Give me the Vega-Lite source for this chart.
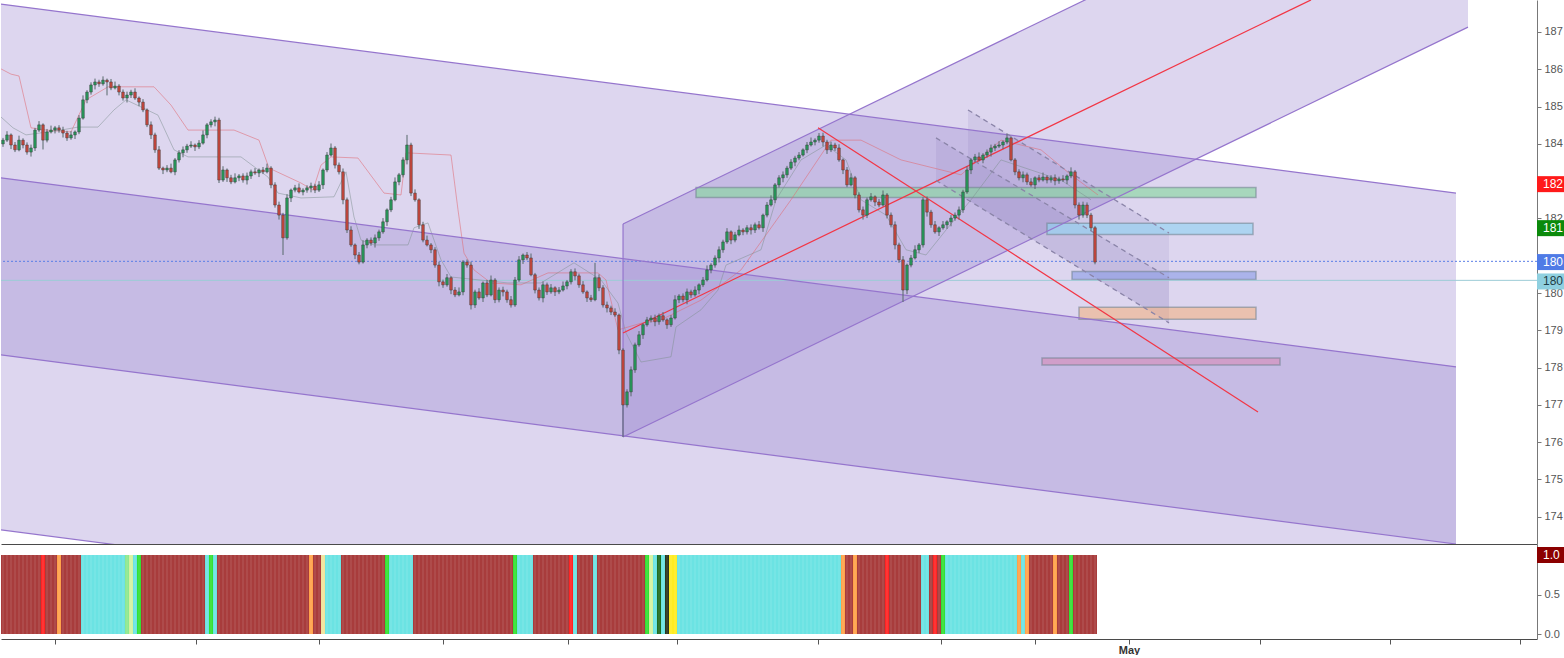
{
"$schema":"https://vega.github.io/schema/vega-lite/v6.json",
"padding":0,
"autosize":{"type":"pad"},
"background":"white",
"spacing":0,
"resolve":{"scale":{"color":"independent","fill":"independent"}},
"config":{"view":{"stroke":null},"axis":{"labelFont":"Liberation Sans","labelColor":"#555555","domainColor":"#787878","tickColor":"#787878","grid":false},"text":{"font":"Liberation Sans"}},
"datasets":{
"candles":[
{"x":0,"o":184.00,"h":184.16,"l":183.92,"c":184.10},{"x":1,"o":184.10,"h":184.34,"l":184.05,"c":184.24},{"x":2,"o":184.24,"h":184.28,"l":183.86,"c":183.97},{"x":3,"o":183.97,"h":184.05,"l":183.78,"c":183.84},{"x":4,"o":183.84,"h":184.22,"l":183.80,"c":184.10},{"x":5,"o":184.10,"h":184.15,"l":183.88,"c":183.97},{"x":6,"o":183.97,"h":184.04,"l":183.71,"c":183.78},{"x":7,"o":183.78,"h":183.98,"l":183.66,"c":183.89},{"x":8,"o":183.89,"h":184.43,"l":183.81,"c":184.37},{"x":9,"o":184.37,"h":184.61,"l":184.32,"c":184.51},
{"x":10,"o":184.51,"h":184.55,"l":183.85,"c":184.10},{"x":11,"o":184.10,"h":184.40,"l":184.04,"c":184.32},{"x":12,"o":184.32,"h":184.49,"l":184.28,"c":184.37},{"x":13,"o":184.37,"h":184.48,"l":184.28,"c":184.43},{"x":14,"o":184.43,"h":184.50,"l":184.30,"c":184.37},{"x":15,"o":184.37,"h":184.46,"l":184.17,"c":184.29},{"x":16,"o":184.29,"h":184.35,"l":184.08,"c":184.16},{"x":17,"o":184.16,"h":184.34,"l":184.11,"c":184.24},{"x":18,"o":184.24,"h":184.36,"l":184.13,"c":184.32},{"x":19,"o":184.32,"h":184.77,"l":184.26,"c":184.69},
{"x":20,"o":184.69,"h":185.30,"l":184.65,"c":185.18},{"x":21,"o":185.18,"h":185.44,"l":185.09,"c":185.39},{"x":22,"o":185.39,"h":185.65,"l":185.32,"c":185.58},{"x":23,"o":185.58,"h":185.75,"l":185.46,"c":185.66},{"x":24,"o":185.66,"h":185.72,"l":185.53,"c":185.61},{"x":25,"o":185.61,"h":185.81,"l":185.56,"c":185.71},{"x":26,"o":185.71,"h":185.75,"l":185.30,"c":185.66},{"x":27,"o":185.66,"h":185.74,"l":185.44,"c":185.50},{"x":28,"o":185.50,"h":185.67,"l":185.46,"c":185.55},{"x":29,"o":185.55,"h":185.60,"l":185.30,"c":185.39},
{"x":30,"o":185.39,"h":185.46,"l":185.16,"c":185.23},{"x":31,"o":185.23,"h":185.40,"l":185.11,"c":185.31},{"x":32,"o":185.31,"h":185.45,"l":185.23,"c":185.39},{"x":33,"o":185.39,"h":185.49,"l":185.18,"c":185.23},{"x":34,"o":185.23,"h":185.27,"l":185.01,"c":185.12},{"x":35,"o":185.12,"h":185.20,"l":184.85,"c":184.91},{"x":36,"o":184.91,"h":184.95,"l":184.45,"c":184.51},{"x":37,"o":184.51,"h":184.60,"l":184.13,"c":184.24},{"x":38,"o":184.24,"h":184.30,"l":183.76,"c":183.84},{"x":39,"o":183.84,"h":183.94,"l":183.30,"c":183.35},
{"x":40,"o":183.35,"h":183.39,"l":183.19,"c":183.30},{"x":41,"o":183.30,"h":183.43,"l":183.24,"c":183.35},{"x":42,"o":183.35,"h":183.47,"l":183.21,"c":183.25},{"x":43,"o":183.25,"h":183.62,"l":183.16,"c":183.57},{"x":44,"o":183.57,"h":183.83,"l":183.50,"c":183.76},{"x":45,"o":183.76,"h":183.93,"l":183.64,"c":183.84},{"x":46,"o":183.84,"h":184.00,"l":183.76,"c":183.94},{"x":47,"o":183.94,"h":184.07,"l":183.89,"c":183.97},{"x":48,"o":183.97,"h":184.01,"l":183.81,"c":183.92},{"x":49,"o":183.92,"h":184.10,"l":183.86,"c":184.02},
{"x":50,"o":184.02,"h":184.36,"l":183.98,"c":184.24},{"x":51,"o":184.24,"h":184.56,"l":184.15,"c":184.51},{"x":52,"o":184.51,"h":184.66,"l":184.44,"c":184.59},{"x":53,"o":184.59,"h":184.73,"l":184.47,"c":184.64},{"x":54,"o":184.64,"h":184.70,"l":182.95,"c":183.03},{"x":55,"o":183.03,"h":183.40,"l":182.98,"c":183.30},{"x":56,"o":183.30,"h":183.34,"l":182.98,"c":183.09},{"x":57,"o":183.09,"h":183.17,"l":182.92,"c":182.98},{"x":58,"o":182.98,"h":183.21,"l":182.94,"c":183.09},{"x":59,"o":183.09,"h":183.19,"l":183.00,"c":183.14},
{"x":60,"o":183.14,"h":183.21,"l":182.96,"c":183.03},{"x":61,"o":183.03,"h":183.23,"l":182.91,"c":183.14},{"x":62,"o":183.14,"h":183.31,"l":183.06,"c":183.25},{"x":63,"o":183.25,"h":183.35,"l":183.17,"c":183.22},{"x":64,"o":183.22,"h":183.34,"l":183.11,"c":183.30},{"x":65,"o":183.30,"h":183.38,"l":183.19,"c":183.25},{"x":66,"o":183.25,"h":183.47,"l":183.21,"c":183.35},{"x":67,"o":183.35,"h":183.40,"l":182.81,"c":182.90},{"x":68,"o":182.90,"h":182.97,"l":182.29,"c":182.36},{"x":69,"o":182.36,"h":182.45,"l":181.97,"c":182.09},
{"x":70,"o":182.09,"h":182.15,"l":181.02,"c":181.48},{"x":71,"o":181.48,"h":182.65,"l":181.43,"c":182.55},{"x":72,"o":182.55,"h":182.80,"l":182.44,"c":182.76},{"x":73,"o":182.76,"h":182.90,"l":182.70,"c":182.82},{"x":74,"o":182.82,"h":182.94,"l":182.67,"c":182.71},{"x":75,"o":182.71,"h":182.81,"l":182.62,"c":182.76},{"x":76,"o":182.76,"h":182.89,"l":182.69,"c":182.82},{"x":77,"o":182.82,"h":182.96,"l":182.70,"c":182.87},{"x":78,"o":182.87,"h":182.93,"l":182.68,"c":182.76},{"x":79,"o":182.76,"h":183.00,"l":182.71,"c":182.90},
{"x":80,"o":182.90,"h":183.34,"l":182.79,"c":183.30},{"x":81,"o":183.30,"h":183.78,"l":183.24,"c":183.70},{"x":82,"o":183.70,"h":184.01,"l":183.66,"c":183.89},{"x":83,"o":183.89,"h":183.94,"l":183.34,"c":183.43},{"x":84,"o":183.43,"h":183.50,"l":183.18,"c":183.25},{"x":85,"o":183.25,"h":183.34,"l":182.38,"c":182.50},{"x":86,"o":182.50,"h":182.56,"l":181.61,"c":181.69},{"x":87,"o":181.69,"h":181.79,"l":181.24,"c":181.29},{"x":88,"o":181.29,"h":181.33,"l":180.91,"c":181.02},{"x":89,"o":181.02,"h":181.10,"l":180.77,"c":180.83},
{"x":90,"o":180.83,"h":181.41,"l":180.79,"c":181.29},{"x":91,"o":181.29,"h":181.47,"l":181.20,"c":181.42},{"x":92,"o":181.42,"h":181.49,"l":181.27,"c":181.34},{"x":93,"o":181.34,"h":181.57,"l":181.22,"c":181.48},{"x":94,"o":181.48,"h":181.70,"l":181.40,"c":181.64},{"x":95,"o":181.64,"h":182.01,"l":181.59,"c":181.91},{"x":96,"o":181.91,"h":182.27,"l":181.80,"c":182.23},{"x":97,"o":182.23,"h":182.58,"l":182.17,"c":182.50},{"x":98,"o":182.50,"h":183.10,"l":182.46,"c":182.98},{"x":99,"o":182.98,"h":183.22,"l":182.89,"c":183.17},
{"x":100,"o":183.17,"h":183.64,"l":183.10,"c":183.57},{"x":101,"o":183.57,"h":184.24,"l":183.45,"c":183.97},{"x":102,"o":183.97,"h":184.03,"l":182.60,"c":182.68},{"x":103,"o":182.68,"h":182.78,"l":182.45,"c":182.50},{"x":104,"o":182.50,"h":182.54,"l":181.72,"c":181.83},{"x":105,"o":181.83,"h":181.91,"l":181.36,"c":181.42},{"x":106,"o":181.42,"h":181.54,"l":181.25,"c":181.29},{"x":107,"o":181.29,"h":181.34,"l":181.07,"c":181.16},{"x":108,"o":181.16,"h":181.23,"l":180.68,"c":180.75},{"x":109,"o":180.75,"h":180.84,"l":180.18,"c":180.30},
{"x":110,"o":180.30,"h":180.36,"l":180.14,"c":180.22},{"x":111,"o":180.22,"h":180.51,"l":180.17,"c":180.41},{"x":112,"o":180.41,"h":180.45,"l":179.97,"c":180.08},{"x":113,"o":180.08,"h":180.16,"l":179.89,"c":179.95},{"x":114,"o":179.95,"h":180.15,"l":179.91,"c":180.03},{"x":115,"o":180.03,"h":180.88,"l":179.94,"c":180.83},{"x":116,"o":180.83,"h":180.90,"l":180.68,"c":180.75},{"x":117,"o":180.75,"h":180.84,"l":179.56,"c":179.68},{"x":118,"o":179.68,"h":180.09,"l":179.60,"c":180.03},{"x":119,"o":180.03,"h":180.13,"l":179.82,"c":179.87},
{"x":120,"o":179.87,"h":180.31,"l":179.76,"c":180.27},{"x":121,"o":180.27,"h":180.35,"l":179.89,"c":179.95},{"x":122,"o":179.95,"h":180.47,"l":179.91,"c":180.35},{"x":123,"o":180.35,"h":180.40,"l":179.73,"c":179.82},{"x":124,"o":179.82,"h":180.15,"l":179.75,"c":180.08},{"x":125,"o":180.08,"h":180.17,"l":179.91,"c":180.03},{"x":126,"o":180.03,"h":180.09,"l":179.74,"c":179.82},{"x":127,"o":179.82,"h":179.92,"l":179.61,"c":179.68},{"x":128,"o":179.68,"h":180.43,"l":179.63,"c":180.35},{"x":129,"o":180.35,"h":180.99,"l":180.30,"c":180.89},
{"x":130,"o":180.89,"h":181.06,"l":180.78,"c":181.02},{"x":131,"o":181.02,"h":181.10,"l":180.88,"c":180.94},{"x":132,"o":180.94,"h":181.06,"l":180.45,"c":180.49},{"x":133,"o":180.49,"h":180.54,"l":179.99,"c":180.08},{"x":134,"o":180.08,"h":180.15,"l":179.80,"c":179.87},{"x":135,"o":179.87,"h":180.31,"l":179.75,"c":180.22},{"x":136,"o":180.22,"h":180.28,"l":179.95,"c":180.03},{"x":137,"o":180.03,"h":180.24,"l":179.98,"c":180.14},{"x":138,"o":180.14,"h":180.18,"l":179.92,"c":180.03},{"x":139,"o":180.03,"h":180.16,"l":179.97,"c":180.08},
{"x":140,"o":180.08,"h":180.31,"l":180.04,"c":180.19},{"x":141,"o":180.19,"h":180.35,"l":180.10,"c":180.30},{"x":142,"o":180.30,"h":180.64,"l":180.23,"c":180.57},{"x":143,"o":180.57,"h":180.66,"l":180.34,"c":180.46},{"x":144,"o":180.46,"h":180.52,"l":180.14,"c":180.22},{"x":145,"o":180.22,"h":180.32,"l":179.98,"c":180.03},{"x":146,"o":180.03,"h":180.07,"l":179.76,"c":179.87},{"x":147,"o":179.87,"h":179.95,"l":179.76,"c":179.82},{"x":148,"o":179.82,"h":180.81,"l":179.78,"c":180.41},{"x":149,"o":180.41,"h":180.50,"l":180.05,"c":180.14},
{"x":150,"o":180.14,"h":180.21,"l":179.61,"c":179.68},{"x":151,"o":179.68,"h":179.77,"l":179.48,"c":179.60},{"x":152,"o":179.60,"h":179.66,"l":179.41,"c":179.49},{"x":153,"o":179.49,"h":179.59,"l":179.36,"c":179.41},{"x":154,"o":179.41,"h":179.45,"l":178.36,"c":178.47},{"x":155,"o":178.47,"h":178.52,"l":176.14,"c":177.00},{"x":156,"o":177.00,"h":177.42,"l":176.93,"c":177.35},{"x":157,"o":177.35,"h":178.03,"l":177.23,"c":177.94},{"x":158,"o":177.94,"h":178.67,"l":177.86,"c":178.61},{"x":159,"o":178.61,"h":178.98,"l":178.56,"c":178.88},
{"x":160,"o":178.88,"h":179.19,"l":178.77,"c":179.15},{"x":161,"o":179.15,"h":179.36,"l":179.10,"c":179.28},{"x":162,"o":179.28,"h":179.40,"l":179.21,"c":179.33},{"x":163,"o":179.33,"h":179.42,"l":179.11,"c":179.23},{"x":164,"o":179.23,"h":179.45,"l":179.15,"c":179.39},{"x":165,"o":179.39,"h":179.49,"l":179.23,"c":179.28},{"x":166,"o":179.28,"h":179.32,"l":179.04,"c":179.15},{"x":167,"o":179.15,"h":179.41,"l":179.09,"c":179.33},{"x":168,"o":179.33,"h":179.94,"l":179.29,"c":179.82},{"x":169,"o":179.82,"h":179.97,"l":179.73,"c":179.92},
{"x":170,"o":179.92,"h":179.99,"l":179.75,"c":179.82},{"x":171,"o":179.82,"h":180.12,"l":179.70,"c":180.03},{"x":172,"o":180.03,"h":180.09,"l":179.87,"c":179.95},{"x":173,"o":179.95,"h":180.18,"l":179.90,"c":180.08},{"x":174,"o":180.08,"h":180.26,"l":179.97,"c":180.22},{"x":175,"o":180.22,"h":180.43,"l":180.16,"c":180.35},{"x":176,"o":180.35,"h":180.74,"l":180.31,"c":180.62},{"x":177,"o":180.62,"h":180.80,"l":180.53,"c":180.75},{"x":178,"o":180.75,"h":181.01,"l":180.68,"c":180.94},{"x":179,"o":180.94,"h":181.25,"l":180.82,"c":181.16},
{"x":180,"o":181.16,"h":181.43,"l":181.08,"c":181.37},{"x":181,"o":181.37,"h":181.74,"l":181.32,"c":181.64},{"x":182,"o":181.64,"h":181.68,"l":181.31,"c":181.42},{"x":183,"o":181.42,"h":181.64,"l":181.36,"c":181.56},{"x":184,"o":181.56,"h":181.81,"l":181.52,"c":181.69},{"x":185,"o":181.69,"h":181.74,"l":181.55,"c":181.64},{"x":186,"o":181.64,"h":181.82,"l":181.57,"c":181.75},{"x":187,"o":181.75,"h":181.84,"l":181.57,"c":181.69},{"x":188,"o":181.69,"h":181.89,"l":181.61,"c":181.83},{"x":189,"o":181.83,"h":181.93,"l":181.70,"c":181.75},
{"x":190,"o":181.75,"h":182.13,"l":181.64,"c":182.09},{"x":191,"o":182.09,"h":182.44,"l":182.03,"c":182.36},{"x":192,"o":182.36,"h":182.62,"l":182.32,"c":182.50},{"x":193,"o":182.50,"h":182.95,"l":182.41,"c":182.90},{"x":194,"o":182.90,"h":183.16,"l":182.83,"c":183.09},{"x":195,"o":183.09,"h":183.26,"l":182.97,"c":183.17},{"x":196,"o":183.17,"h":183.41,"l":183.09,"c":183.35},{"x":197,"o":183.35,"h":183.59,"l":183.30,"c":183.51},{"x":198,"o":183.51,"h":183.68,"l":183.40,"c":183.62},{"x":199,"o":183.62,"h":183.78,"l":183.56,"c":183.70},
{"x":200,"o":183.70,"h":183.88,"l":183.66,"c":183.84},{"x":201,"o":183.84,"h":184.05,"l":183.75,"c":183.97},{"x":202,"o":183.97,"h":184.17,"l":183.93,"c":184.05},{"x":203,"o":184.05,"h":184.15,"l":183.96,"c":184.10},{"x":204,"o":184.10,"h":184.29,"l":184.03,"c":184.21},{"x":205,"o":184.21,"h":184.30,"l":183.93,"c":184.05},{"x":206,"o":184.05,"h":184.11,"l":183.73,"c":183.84},{"x":207,"o":183.84,"h":184.06,"l":183.78,"c":183.97},{"x":208,"o":183.97,"h":184.03,"l":183.81,"c":183.89},{"x":209,"o":183.89,"h":183.99,"l":183.52,"c":183.57},
{"x":210,"o":183.57,"h":183.61,"l":183.19,"c":183.30},{"x":211,"o":183.30,"h":183.38,"l":182.84,"c":182.90},{"x":212,"o":182.90,"h":183.21,"l":182.86,"c":183.09},{"x":213,"o":183.09,"h":183.14,"l":182.54,"c":182.63},{"x":214,"o":182.63,"h":182.70,"l":182.16,"c":182.23},{"x":215,"o":182.23,"h":182.32,"l":181.97,"c":182.09},{"x":216,"o":182.09,"h":182.56,"l":182.01,"c":182.50},{"x":217,"o":182.50,"h":182.68,"l":182.45,"c":182.58},{"x":218,"o":182.58,"h":182.62,"l":182.33,"c":182.44},{"x":219,"o":182.44,"h":182.52,"l":182.30,"c":182.36},
{"x":220,"o":182.36,"h":182.75,"l":182.32,"c":182.63},{"x":221,"o":182.63,"h":182.68,"l":182.00,"c":182.09},{"x":222,"o":182.09,"h":182.16,"l":181.76,"c":181.83},{"x":223,"o":181.83,"h":181.92,"l":181.17,"c":181.29},{"x":224,"o":181.29,"h":181.35,"l":180.81,"c":180.89},{"x":225,"o":180.89,"h":180.99,"l":179.76,"c":180.08},{"x":226,"o":180.08,"h":180.79,"l":179.97,"c":180.75},{"x":227,"o":180.75,"h":181.02,"l":180.69,"c":180.94},{"x":228,"o":180.94,"h":181.28,"l":180.90,"c":181.16},{"x":229,"o":181.16,"h":181.34,"l":181.07,"c":181.29},
{"x":230,"o":181.29,"h":182.57,"l":181.22,"c":182.50},{"x":231,"o":182.50,"h":182.59,"l":182.05,"c":182.17},{"x":232,"o":182.17,"h":182.23,"l":181.75,"c":181.83},{"x":233,"o":181.83,"h":181.93,"l":181.59,"c":181.64},{"x":234,"o":181.64,"h":181.79,"l":181.53,"c":181.75},{"x":235,"o":181.75,"h":181.93,"l":181.70,"c":181.83},{"x":236,"o":181.83,"h":181.95,"l":181.72,"c":181.91},{"x":237,"o":181.91,"h":182.09,"l":181.79,"c":182.01},{"x":238,"o":182.01,"h":182.16,"l":181.94,"c":182.09},{"x":239,"o":182.09,"h":182.32,"l":181.97,"c":182.23},
{"x":240,"o":182.23,"h":182.77,"l":182.15,"c":182.71},{"x":241,"o":182.71,"h":183.40,"l":182.66,"c":183.30},{"x":242,"o":183.30,"h":183.61,"l":183.19,"c":183.57},{"x":243,"o":183.57,"h":183.73,"l":183.51,"c":183.65},{"x":244,"o":183.65,"h":183.77,"l":183.53,"c":183.57},{"x":245,"o":183.57,"h":183.75,"l":183.48,"c":183.70},{"x":246,"o":183.70,"h":183.85,"l":183.63,"c":183.78},{"x":247,"o":183.78,"h":183.98,"l":183.66,"c":183.89},{"x":248,"o":183.89,"h":184.00,"l":183.81,"c":183.94},{"x":249,"o":183.94,"h":184.07,"l":183.89,"c":183.97},
{"x":250,"o":183.97,"h":184.09,"l":183.86,"c":184.05},{"x":251,"o":184.05,"h":184.26,"l":183.99,"c":184.16},{"x":252,"o":184.16,"h":184.20,"l":183.53,"c":183.57},{"x":253,"o":183.57,"h":183.62,"l":183.16,"c":183.25},{"x":254,"o":183.25,"h":183.32,"l":183.02,"c":183.09},{"x":255,"o":183.09,"h":183.26,"l":182.97,"c":183.17},{"x":256,"o":183.17,"h":183.23,"l":182.90,"c":182.98},{"x":257,"o":182.98,"h":183.08,"l":182.85,"c":182.90},{"x":258,"o":182.90,"h":183.13,"l":182.79,"c":183.09},{"x":259,"o":183.09,"h":183.17,"l":182.97,"c":183.03},
{"x":260,"o":183.03,"h":183.23,"l":182.99,"c":183.11},{"x":261,"o":183.11,"h":183.16,"l":182.94,"c":183.03},{"x":262,"o":183.03,"h":183.16,"l":182.96,"c":183.09},{"x":263,"o":183.09,"h":183.18,"l":182.89,"c":183.01},{"x":264,"o":183.01,"h":183.12,"l":182.93,"c":183.06},{"x":265,"o":183.06,"h":183.16,"l":182.98,"c":183.03},{"x":266,"o":183.03,"h":183.18,"l":182.92,"c":183.14},{"x":267,"o":183.14,"h":183.37,"l":183.08,"c":183.25},{"x":268,"o":183.25,"h":183.30,"l":182.27,"c":182.36},{"x":269,"o":182.36,"h":182.43,"l":181.97,"c":182.09},
{"x":270,"o":182.09,"h":182.45,"l":182.02,"c":182.36},{"x":271,"o":182.36,"h":182.43,"l":182.01,"c":182.09},{"x":272,"o":182.09,"h":182.15,"l":181.67,"c":181.75},{"x":273,"o":181.75,"h":181.80,"l":180.77,"c":180.83}
],
"kijun":[
{"x":-0.5,"p":186.01},{"x":2,"p":185.87},{"x":4,"p":185.82},{"x":7,"p":184.43},{"x":10.75,"p":184.37},{"x":17,"p":184.32},{"x":20.75,"p":185.18},{"x":26.25,"p":185.53},{"x":37.75,"p":185.53},{"x":42,"p":185.04},{"x":46.25,"p":184.37},{"x":57.75,"p":184.37},{"x":64,"p":184.10},{"x":66.5,"p":183.35},{"x":74.5,"p":182.95},{"x":77.5,"p":182.76},{"x":79.5,"p":183.43},{"x":82,"p":183.65},{"x":88.75,"p":183.62},{"x":95.25,"p":182.68},{"x":99.5,"p":182.63},{"x":100.75,"p":183.76},{"x":112,"p":183.70},{"x":113.75,"p":182.23},{"x":115.25,"p":181.07},{"x":117.75,"p":180.62},{"x":122,"p":180.27},{"x":129.5,"p":180.22},{"x":136.25,"p":180.54},{"x":148.75,"p":180.54},{"x":150.75,"p":180.35},{"x":153.75,"p":179.01},{"x":159.5,"p":179.19},{"x":164.5,"p":179.28},{"x":174.5,"p":179.81},{"x":184.5,"p":180.62},{"x":197,"p":182.50},{"x":207,"p":184.10},{"x":214.5,"p":184.10},{"x":224.5,"p":183.57},{"x":239.5,"p":183.17},{"x":249.5,"p":184.10},{"x":259.5,"p":183.84},{"x":267,"p":183.17},{"x":273.75,"p":182.63}
],
"tenkan":[
{"x":-0.5,"p":184.72},{"x":2.5,"p":184.43},{"x":5.75,"p":184.24},{"x":14.5,"p":184.37},{"x":18.75,"p":184.45},{"x":23.75,"p":184.45},{"x":27.75,"p":184.91},{"x":30.75,"p":185.18},{"x":34.5,"p":184.99},{"x":38.75,"p":184.77},{"x":42.75,"p":183.84},{"x":46.25,"p":183.65},{"x":59.5,"p":183.65},{"x":66.25,"p":183.11},{"x":68.75,"p":182.68},{"x":74.5,"p":182.55},{"x":82.75,"p":182.58},{"x":85.75,"p":183.25},{"x":87.75,"p":182.04},{"x":89.5,"p":181.42},{"x":92.75,"p":181.29},{"x":101.25,"p":181.29},{"x":102.75,"p":181.75},{"x":106.25,"p":181.88},{"x":109.5,"p":180.89},{"x":112,"p":180.43},{"x":126.25,"p":180.27},{"x":134.5,"p":180.27},{"x":142.75,"p":180.81},{"x":149.5,"p":180.35},{"x":153.75,"p":179.73},{"x":155.75,"p":178.93},{"x":159.5,"p":178.15},{"x":167,"p":178.29},{"x":168.25,"p":179.09},{"x":174.5,"p":179.55},{"x":178.75,"p":180.08},{"x":180.75,"p":180.75},{"x":189.5,"p":181.16},{"x":193.25,"p":182.50},{"x":199.5,"p":183.57},{"x":205.75,"p":183.97},{"x":210.75,"p":183.57},{"x":214.5,"p":182.50},{"x":220.75,"p":182.09},{"x":225.75,"p":181.16},{"x":230.75,"p":181.02},{"x":235.75,"p":181.69},{"x":242,"p":182.50},{"x":249.5,"p":183.57},{"x":257,"p":183.30},{"x":264.5,"p":183.03},{"x":272,"p":182.50}
],
"channels":[
{"ch":"A","x":-0.5,"top":187.75,"bot":178.34},{"ch":"A","x":363.25,"top":182.68,"bot":173.27},
{"ch":"B","x":-0.5,"top":183.09,"bot":173.65},{"ch":"B","x":363.25,"top":178.02,"bot":168.58},
{"ch":"C","x":155,"top":181.85,"bot":176.14},{"ch":"C","x":366.25,"top":192.84,"bot":187.13}
],
"regions":[
{"g":"r1","x":241.25,"top":184.91,"bot":182.50},{"g":"r1","x":291.5,"top":181.61,"bot":179.20},
{"g":"r2","x":233.25,"top":184.16,"bot":183.02},{"g":"r2","x":291.5,"top":180.41,"bot":179.20}
],
"plines":[
{"ln":"A1","x":-0.5,"p":187.75},{"ln":"A1","x":363.25,"p":182.68},
{"ln":"A2","x":-0.5,"p":178.34},{"ln":"A2","x":363.25,"p":173.27},
{"ln":"B1","x":-0.5,"p":183.09},{"ln":"B1","x":363.25,"p":178.02},
{"ln":"B2","x":-0.5,"p":173.65},{"ln":"B2","x":363.25,"p":168.58},
{"ln":"C1","x":155,"p":176.14},{"ln":"C1","x":366.25,"p":187.13},
{"ln":"C2","x":155,"p":181.85},{"ln":"C2","x":366.25,"p":192.84},
{"ln":"C3","x":155,"p":176.14},{"ln":"C3","x":155.01,"p":181.85}
],
"rlines":[
{"ln":"R1","x":155,"p":178.93},{"ln":"R1","x":327,"p":187.86},
{"ln":"R2","x":203.75,"p":184.43},{"ln":"R2","x":313.75,"p":176.81}
],
"dlines":[
{"ln":"D1","x":241.25,"p":184.91},{"ln":"D1","x":291.5,"p":181.61},
{"ln":"D2","x":233.25,"p":184.16},{"ln":"D2","x":291.5,"p":180.41},
{"ln":"D3","x":233.25,"p":183.02},{"ln":"D3","x":291.5,"p":179.20}
],
"zones":[
{"z":"green","x":173.25,"x2":313.25,"p":182.83,"p2":182.56},
{"z":"sky","x":261,"x2":312.5,"p":181.87,"p2":181.57},
{"z":"blue","x":267.25,"x2":313.25,"p":180.58,"p2":180.36},
{"z":"orange","x":269,"x2":313.25,"p":179.62,"p2":179.30},
{"z":"pink","x":259.75,"x2":319.25,"p":178.26,"p2":178.07}
],
"hlines":[{"k":"last","p":180.85},{"k":"level","p":180.34}],
"tags":[
{"k":"red","t":"182","p":182.92},{"k":"green","t":"181","p":181.74},{"k":"blue","t":"180","p":180.83},{"k":"lblue","t":"180","p":180.31}
],
"segs":[
{"x0":-0.5,"x1":9.5,"c":"dr"},{"x0":9.5,"x1":10.5,"c":"r"},{"x0":10.5,"x1":13.5,"c":"dr"},{"x0":13.5,"x1":14.5,"c":"o"},{"x0":14.5,"x1":19.5,"c":"dr"},{"x0":19.5,"x1":30.5,"c":"cy"},{"x0":30.5,"x1":31.5,"c":"lg"},{"x0":31.5,"x1":32.5,"c":"pl"},{"x0":32.5,"x1":33.5,"c":"cy"},{"x0":33.5,"x1":34.5,"c":"g"},
{"x0":34.5,"x1":50.5,"c":"dr"},{"x0":50.5,"x1":51.5,"c":"cy"},{"x0":51.5,"x1":52.5,"c":"g"},{"x0":52.5,"x1":53.5,"c":"cy"},{"x0":53.5,"x1":76.5,"c":"dr"},{"x0":76.5,"x1":77.5,"c":"o"},{"x0":77.5,"x1":79.5,"c":"dr"},{"x0":79.5,"x1":80.5,"c":"py"},{"x0":80.5,"x1":84.5,"c":"cy"},{"x0":84.5,"x1":95.5,"c":"dr"},
{"x0":95.5,"x1":96.5,"c":"g"},{"x0":96.5,"x1":102.5,"c":"cy"},{"x0":102.5,"x1":127.5,"c":"dr"},{"x0":127.5,"x1":128.5,"c":"g"},{"x0":128.5,"x1":132.5,"c":"cy"},{"x0":132.5,"x1":141.5,"c":"dr"},{"x0":141.5,"x1":142.5,"c":"r"},{"x0":142.5,"x1":143.5,"c":"cy"},{"x0":143.5,"x1":147.5,"c":"dr"},{"x0":147.5,"x1":148.5,"c":"cy"},
{"x0":148.5,"x1":160.5,"c":"dr"},{"x0":160.5,"x1":161.5,"c":"g"},{"x0":161.5,"x1":162.5,"c":"pl"},{"x0":162.5,"x1":163.5,"c":"cy"},{"x0":163.5,"x1":164.5,"c":"dg"},{"x0":164.5,"x1":165.5,"c":"cy"},{"x0":165.5,"x1":166.5,"c":"k"},{"x0":166.5,"x1":168.5,"c":"y"},{"x0":168.5,"x1":209.5,"c":"cy"},{"x0":209.5,"x1":210.5,"c":"o"},
{"x0":210.5,"x1":212.5,"c":"dr"},{"x0":212.5,"x1":213.5,"c":"o"},{"x0":213.5,"x1":220.5,"c":"dr"},{"x0":220.5,"x1":221.5,"c":"r"},{"x0":221.5,"x1":229.5,"c":"dr"},{"x0":229.5,"x1":231.5,"c":"cy"},{"x0":231.5,"x1":232.5,"c":"dr"},{"x0":232.5,"x1":233.5,"c":"r"},{"x0":233.5,"x1":234.5,"c":"dr"},{"x0":234.5,"x1":235.5,"c":"g"},
{"x0":235.5,"x1":253.5,"c":"cy"},{"x0":253.5,"x1":254.5,"c":"o"},{"x0":254.5,"x1":255.5,"c":"cy"},{"x0":255.5,"x1":256.5,"c":"o"},{"x0":256.5,"x1":262.5,"c":"dr"},{"x0":262.5,"x1":263.5,"c":"o"},{"x0":263.5,"x1":266.5,"c":"dr"},{"x0":266.5,"x1":267.5,"c":"g"},{"x0":267.5,"x1":273.5,"c":"dr"}
],
"tags2":[{"k":"dred","t":"1.0","v":1}]
},
"vconcat":[
{
"width":1536,"height":544,
"layer":[
{"data":{"name":"channels"},"mark":{"type":"area","fill":"#9b87cf","fillOpacity":0.34,"clip":true},
 "encoding":{"x":{"field":"x","type":"quantitative","scale":{"domain":[-0.5,383.5],"nice":false,"zero":false,"padding":0},"axis":{"orient":"bottom","labels":false,"ticks":false,"domain":true,"domainColor":"#4a4a4a","title":null}},
 "y":{"field":"top","type":"quantitative","stack":null,"scale":{"domain":[173.27,187.858],"nice":false,"zero":false},"axis":{"orient":"right","values":[174,175,176,177,178,179,180,182,184,185,186,187],"format":"d","tickSize":4,"labelPadding":3,"labelFontSize":11,"title":null}},
 "y2":{"field":"bot"},"detail":{"field":"ch"}}},
{"data":{"name":"regions"},"mark":{"type":"area","fill":"#7d6bb0","fillOpacity":0.13,"clip":true},
 "encoding":{"x":{"field":"x","type":"quantitative","scale":{"domain":[-0.5,383.5],"nice":false,"zero":false,"padding":0},"axis":{"orient":"bottom","labels":false,"ticks":false,"domain":true,"domainColor":"#4a4a4a","title":null}},
 "y":{"field":"top","type":"quantitative","stack":null,"scale":{"domain":[173.27,187.858],"nice":false,"zero":false},"axis":{"orient":"right","values":[174,175,176,177,178,179,180,182,184,185,186,187],"format":"d","tickSize":4,"labelPadding":3,"labelFontSize":11,"title":null}},
 "y2":{"field":"bot"},"detail":{"field":"g"}}},
{"data":{"name":"zones"},"mark":{"type":"rect","fillOpacity":0.62,"stroke":"#6d7f8c","strokeOpacity":0.55,"strokeWidth":1.5,"clip":true},
 "encoding":{"x":{"field":"x","type":"quantitative","scale":{"domain":[-0.5,383.5],"nice":false,"zero":false,"padding":0},"axis":{"orient":"bottom","labels":false,"ticks":false,"domain":true,"domainColor":"#4a4a4a","title":null}},"x2":{"field":"x2"},
 "y":{"field":"p","type":"quantitative","scale":{"domain":[173.27,187.858],"nice":false,"zero":false},"axis":{"orient":"right","values":[174,175,176,177,178,179,180,182,184,185,186,187],"format":"d","tickSize":4,"labelPadding":3,"labelFontSize":11,"title":null}},"y2":{"field":"p2"},
 "fill":{"field":"z","type":"nominal","legend":null,"scale":{"domain":["green","sky","blue","orange","pink"],"range":["#86d89c","#8fd4f2","#8c9ee6","#f2b488","#d68cb8"]}}}},
{"data":{"name":"hlines"},"transform":[{"filter":"datum.k == 'last'"}],"mark":{"type":"rule","color":"#5b7fe6","strokeWidth":1,"strokeDash":[2,2]},
 "encoding":{"y":{"field":"p","type":"quantitative","scale":{"domain":[173.27,187.858],"nice":false,"zero":false},"axis":{"orient":"right","values":[174,175,176,177,178,179,180,182,184,185,186,187],"format":"d","tickSize":4,"labelPadding":3,"labelFontSize":11,"title":null}}}},
{"data":{"name":"hlines"},"transform":[{"filter":"datum.k == 'level'"}],"mark":{"type":"rule","color":"#9ccbd6","strokeWidth":1},
 "encoding":{"y":{"field":"p","type":"quantitative","scale":{"domain":[173.27,187.858],"nice":false,"zero":false},"axis":{"orient":"right","values":[174,175,176,177,178,179,180,182,184,185,186,187],"format":"d","tickSize":4,"labelPadding":3,"labelFontSize":11,"title":null}}}},
{"data":{"name":"kijun"},"mark":{"type":"line","color":"#e06a72","strokeWidth":1,"opacity":0.55,"clip":true},
 "encoding":{"x":{"field":"x","type":"quantitative","scale":{"domain":[-0.5,383.5],"nice":false,"zero":false,"padding":0},"axis":{"orient":"bottom","labels":false,"ticks":false,"domain":true,"domainColor":"#4a4a4a","title":null}},
 "y":{"field":"p","type":"quantitative","scale":{"domain":[173.27,187.858],"nice":false,"zero":false},"axis":{"orient":"right","values":[174,175,176,177,178,179,180,182,184,185,186,187],"format":"d","tickSize":4,"labelPadding":3,"labelFontSize":11,"title":null}}}},
{"data":{"name":"tenkan"},"mark":{"type":"line","color":"#7e9090","strokeWidth":1,"opacity":0.5,"clip":true},
 "encoding":{"x":{"field":"x","type":"quantitative","scale":{"domain":[-0.5,383.5],"nice":false,"zero":false,"padding":0},"axis":{"orient":"bottom","labels":false,"ticks":false,"domain":true,"domainColor":"#4a4a4a","title":null}},
 "y":{"field":"p","type":"quantitative","scale":{"domain":[173.27,187.858],"nice":false,"zero":false},"axis":{"orient":"right","values":[174,175,176,177,178,179,180,182,184,185,186,187],"format":"d","tickSize":4,"labelPadding":3,"labelFontSize":11,"title":null}}}},
{"data":{"name":"plines"},"mark":{"type":"line","color":"#9575cd","strokeWidth":1.2,"clip":true},
 "encoding":{"x":{"field":"x","type":"quantitative","scale":{"domain":[-0.5,383.5],"nice":false,"zero":false,"padding":0},"axis":{"orient":"bottom","labels":false,"ticks":false,"domain":true,"domainColor":"#4a4a4a","title":null}},
 "y":{"field":"p","type":"quantitative","scale":{"domain":[173.27,187.858],"nice":false,"zero":false},"axis":{"orient":"right","values":[174,175,176,177,178,179,180,182,184,185,186,187],"format":"d","tickSize":4,"labelPadding":3,"labelFontSize":11,"title":null}},"detail":{"field":"ln"}}},
{"data":{"name":"rlines"},"mark":{"type":"line","color":"#f23645","strokeWidth":1.2,"clip":true},
 "encoding":{"x":{"field":"x","type":"quantitative","scale":{"domain":[-0.5,383.5],"nice":false,"zero":false,"padding":0},"axis":{"orient":"bottom","labels":false,"ticks":false,"domain":true,"domainColor":"#4a4a4a","title":null}},
 "y":{"field":"p","type":"quantitative","scale":{"domain":[173.27,187.858],"nice":false,"zero":false},"axis":{"orient":"right","values":[174,175,176,177,178,179,180,182,184,185,186,187],"format":"d","tickSize":4,"labelPadding":3,"labelFontSize":11,"title":null}},"detail":{"field":"ln"}}},
{"data":{"name":"dlines"},"mark":{"type":"line","color":"#8a84a8","strokeWidth":1.3,"strokeDash":[5,4],"clip":true},
 "encoding":{"x":{"field":"x","type":"quantitative","scale":{"domain":[-0.5,383.5],"nice":false,"zero":false,"padding":0},"axis":{"orient":"bottom","labels":false,"ticks":false,"domain":true,"domainColor":"#4a4a4a","title":null}},
 "y":{"field":"p","type":"quantitative","scale":{"domain":[173.27,187.858],"nice":false,"zero":false},"axis":{"orient":"right","values":[174,175,176,177,178,179,180,182,184,185,186,187],"format":"d","tickSize":4,"labelPadding":3,"labelFontSize":11,"title":null}},"detail":{"field":"ln"}}},
{"data":{"name":"candles"},"mark":{"type":"rule","color":"#56686a","strokeWidth":1,"clip":true},
 "encoding":{"x":{"field":"x","type":"quantitative","scale":{"domain":[-0.5,383.5],"nice":false,"zero":false,"padding":0},"axis":{"orient":"bottom","labels":false,"ticks":false,"domain":true,"domainColor":"#4a4a4a","title":null}},
 "y":{"field":"l","type":"quantitative","scale":{"domain":[173.27,187.858],"nice":false,"zero":false},"axis":{"orient":"right","values":[174,175,176,177,178,179,180,182,184,185,186,187],"format":"d","tickSize":4,"labelPadding":3,"labelFontSize":11,"title":null}},"y2":{"field":"h"}}},
{"data":{"name":"candles"},"mark":{"type":"bar","width":2.6,"stroke":"#3c3c3c","strokeWidth":0.5,"clip":true},
 "encoding":{"x":{"field":"x","type":"quantitative","scale":{"domain":[-0.5,383.5],"nice":false,"zero":false,"padding":0},"axis":{"orient":"bottom","labels":false,"ticks":false,"domain":true,"domainColor":"#4a4a4a","title":null}},
 "y":{"field":"o","type":"quantitative","scale":{"domain":[173.27,187.858],"nice":false,"zero":false},"axis":{"orient":"right","values":[174,175,176,177,178,179,180,182,184,185,186,187],"format":"d","tickSize":4,"labelPadding":3,"labelFontSize":11,"title":null}},"y2":{"field":"c"},
 "color":{"condition":{"test":"datum.c >= datum.o","value":"#269a5a"},"value":"#c8463c"}}},
{"data":{"name":"tags"},"mark":{"type":"rect","x2Offset":27,"yOffset":-8,"y2Offset":8},
 "encoding":{"x":{"datum":383.5,"type":"quantitative","scale":{"domain":[-0.5,383.5],"nice":false,"zero":false,"padding":0},"axis":{"orient":"bottom","labels":false,"ticks":false,"domain":true,"domainColor":"#4a4a4a","title":null}},"x2":{"datum":383.5},
 "y":{"field":"p","type":"quantitative","scale":{"domain":[173.27,187.858],"nice":false,"zero":false},"axis":{"orient":"right","values":[174,175,176,177,178,179,180,182,184,185,186,187],"format":"d","tickSize":4,"labelPadding":3,"labelFontSize":11,"title":null}},"y2":{"field":"p"},
 "color":{"field":"k","type":"nominal","legend":null,"scale":{"domain":["red","green","blue","lblue"],"range":["#ff1a1a","#0b8a0b","#4f7be6","#8fd0e0"]}}}},
{"data":{"name":"tags"},"mark":{"type":"text","align":"left","baseline":"middle","dx":6,"fontSize":12,"font":"Liberation Sans"},
 "encoding":{"x":{"datum":383.5,"type":"quantitative","scale":{"domain":[-0.5,383.5],"nice":false,"zero":false,"padding":0},"axis":{"orient":"bottom","labels":false,"ticks":false,"domain":true,"domainColor":"#4a4a4a","title":null}},
 "y":{"field":"p","type":"quantitative","scale":{"domain":[173.27,187.858],"nice":false,"zero":false},"axis":{"orient":"right","values":[174,175,176,177,178,179,180,182,184,185,186,187],"format":"d","tickSize":4,"labelPadding":3,"labelFontSize":11,"title":null}},
 "text":{"field":"t"},
 "fill":{"condition":{"test":"datum.k == 'lblue'","value":"#1f3d45"},"value":"#ffffff"}}}
]
},
{
"width":1536,"height":95,
"layer":[
{"data":{"name":"segs"},"mark":{"type":"rect"},
 "encoding":{"x":{"field":"x0","type":"quantitative","scale":{"domain":[-0.5,383.5],"nice":false,"zero":false,"padding":0},
   "axis":{"orient":"bottom","values":[13,48.25,79,110,141.25,168.5,203.75,234.5,258,281.5,314.25,346.75,379.25],"labelExpr":"datum.value == 281.5 ? 'May' : ''","tickSize":5,"labelPadding":0,"labelFontSize":11,"labelFontWeight":"bold","labelColor":"#333333","domainColor":"#4a4a4a","tickColor":"#555555","title":null}},
 "x2":{"field":"x1"},
 "y":{"datum":0,"type":"quantitative","scale":{"domain":[-0.063,1.139],"nice":false,"zero":false},"axis":{"orient":"right","values":[0,0.5,1],"format":".1f","tickSize":4,"labelPadding":3,"labelFontSize":11,"title":null}},
 "y2":{"datum":1},
 "color":{"field":"c","type":"nominal","legend":null,"scale":{"domain":["dr","cy","r","o","g","lg","pl","py","y","dg","k"],"range":["#a83c3c","#6be3e3","#ff2424","#ffa24a","#33e033","#8ee88e","#d4f2a0","#efe39a","#ffec22","#1f6b1f","#2b361f"]}}}},
{"data":{"name":"candles"},"mark":{"type":"rule","color":"#ffffff","strokeWidth":1,"opacity":0.16},
 "encoding":{"x":{"field":"x","type":"quantitative","scale":{"domain":[-0.5,383.5],"nice":false,"zero":false,"padding":0},
   "axis":{"orient":"bottom","values":[13,48.25,79,110,141.25,168.5,203.75,234.5,258,281.5,314.25,346.75,379.25],"labelExpr":"datum.value == 281.5 ? 'May' : ''","tickSize":5,"labelPadding":0,"labelFontSize":11,"labelFontWeight":"bold","labelColor":"#333333","domainColor":"#4a4a4a","tickColor":"#555555","title":null}},
 "y":{"datum":0,"type":"quantitative","scale":{"domain":[-0.063,1.139],"nice":false,"zero":false},"axis":{"orient":"right","values":[0,0.5,1],"format":".1f","tickSize":4,"labelPadding":3,"labelFontSize":11,"title":null}},"y2":{"datum":1}}},
{"data":{"name":"tags2"},"mark":{"type":"rect","color":"#8b0000","x2Offset":27,"yOffset":-8,"y2Offset":8},
 "encoding":{"x":{"datum":383.5,"type":"quantitative","scale":{"domain":[-0.5,383.5],"nice":false,"zero":false,"padding":0},
   "axis":{"orient":"bottom","values":[13,48.25,79,110,141.25,168.5,203.75,234.5,258,281.5,314.25,346.75,379.25],"labelExpr":"datum.value == 281.5 ? 'May' : ''","tickSize":5,"labelPadding":0,"labelFontSize":11,"labelFontWeight":"bold","labelColor":"#333333","domainColor":"#4a4a4a","tickColor":"#555555","title":null}},"x2":{"datum":383.5},
 "y":{"field":"v","type":"quantitative","scale":{"domain":[-0.063,1.139],"nice":false,"zero":false},"axis":{"orient":"right","values":[0,0.5,1],"format":".1f","tickSize":4,"labelPadding":3,"labelFontSize":11,"title":null}},"y2":{"field":"v"}}},
{"data":{"name":"tags2"},"mark":{"type":"text","align":"left","baseline":"middle","dx":6,"fontSize":12,"color":"#ffffff","font":"Liberation Sans"},
 "encoding":{"x":{"datum":383.5,"type":"quantitative","scale":{"domain":[-0.5,383.5],"nice":false,"zero":false,"padding":0},
   "axis":{"orient":"bottom","values":[13,48.25,79,110,141.25,168.5,203.75,234.5,258,281.5,314.25,346.75,379.25],"labelExpr":"datum.value == 281.5 ? 'May' : ''","tickSize":5,"labelPadding":0,"labelFontSize":11,"labelFontWeight":"bold","labelColor":"#333333","domainColor":"#4a4a4a","tickColor":"#555555","title":null}},
 "y":{"field":"v","type":"quantitative","scale":{"domain":[-0.063,1.139],"nice":false,"zero":false},"axis":{"orient":"right","values":[0,0.5,1],"format":".1f","tickSize":4,"labelPadding":3,"labelFontSize":11,"title":null}},"text":{"field":"t"}}}
]
}
]
}
